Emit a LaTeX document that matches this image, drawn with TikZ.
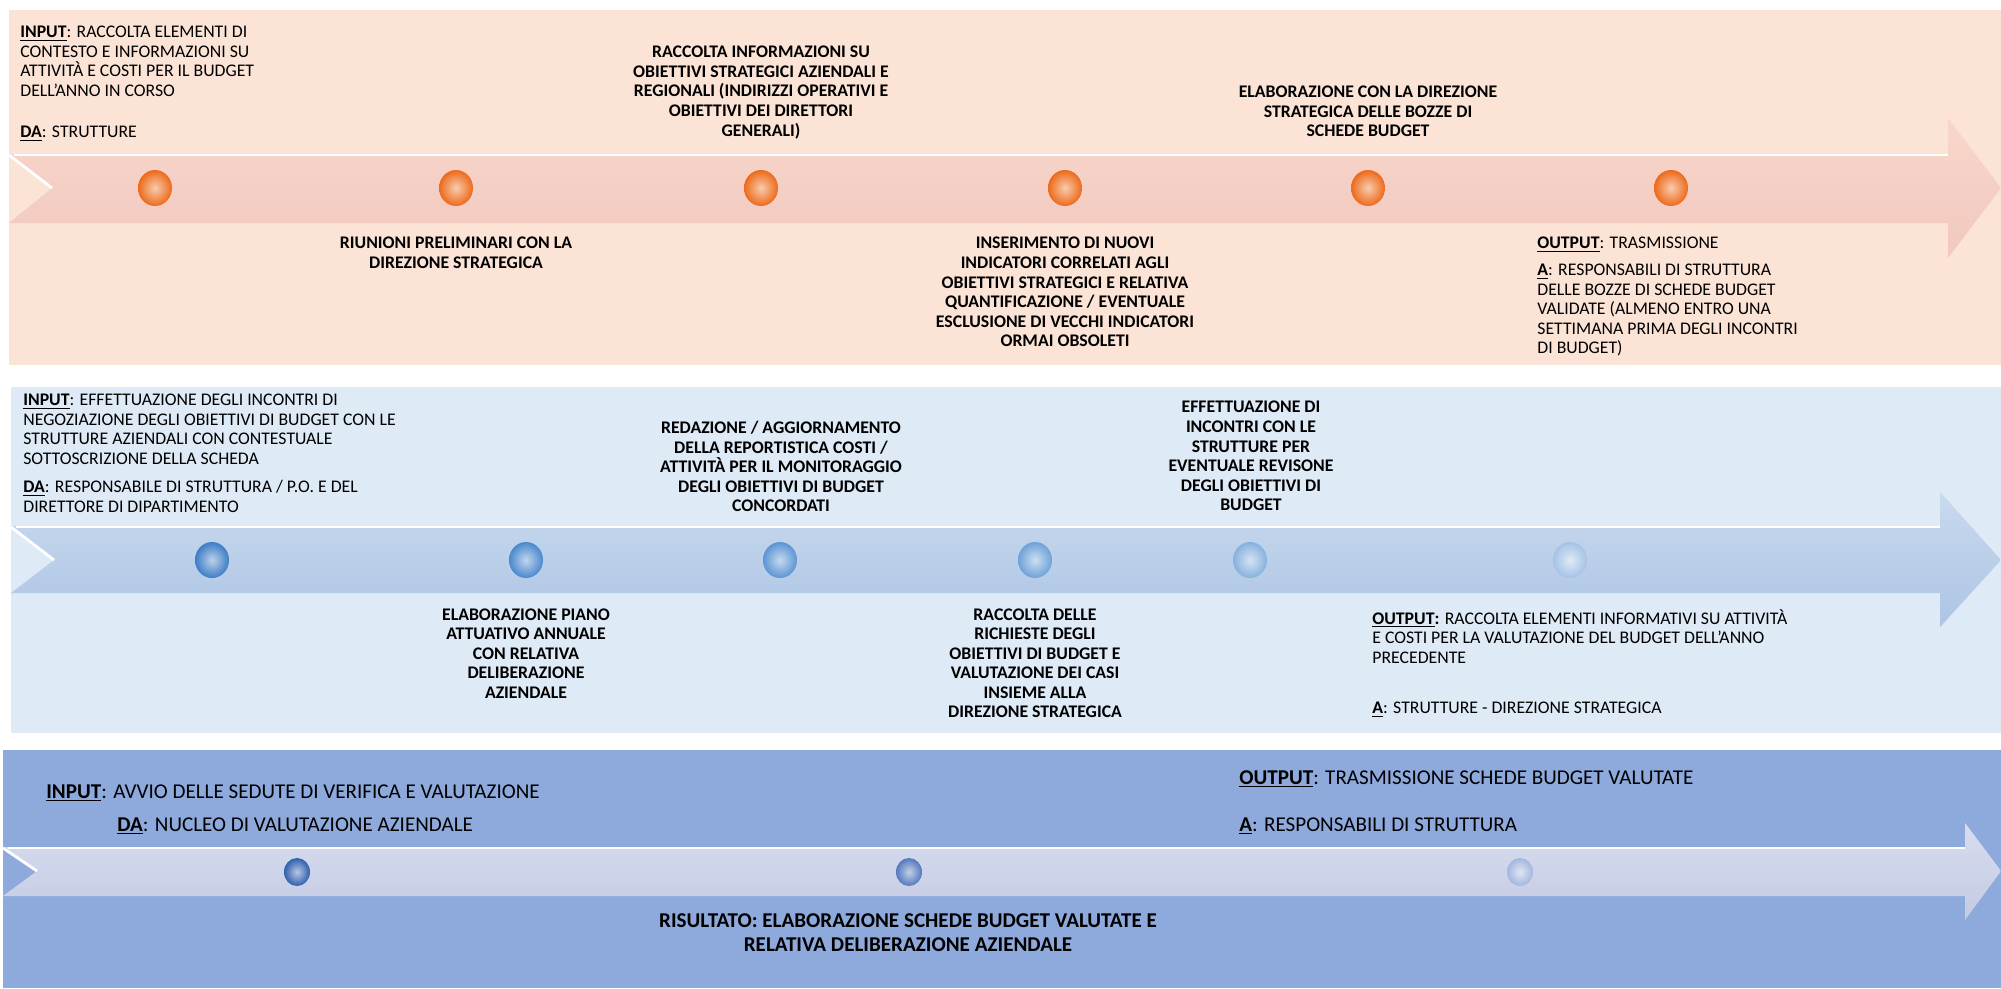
\documentclass[tikz,border=0pt]{standalone}
\usepackage{fontspec}
\setmainfont{Carlito}

\definecolor{peachbg}{HTML}{FBE4D6}
\definecolor{peachtop}{HTML}{F9D6CB}
\definecolor{peachbot}{HTML}{F0C8BE}
\definecolor{skybg}{HTML}{DEEAF6}
\definecolor{skytop}{HTML}{C9DAEF}
\definecolor{skybot}{HTML}{ADC4E3}
\definecolor{steelbg}{HTML}{8EAADC}
\definecolor{steeltop}{HTML}{D8DDEF}
\definecolor{steelbot}{HTML}{C3CAE3}
\definecolor{orangeball}{HTML}{EC6A1A}
\definecolor{blueA}{HTML}{3E7CC6}
\definecolor{blueB}{HTML}{4A88CE}
\definecolor{blueC}{HTML}{5B95D3}
\definecolor{blueD}{HTML}{6EA2D8}
\definecolor{blueE}{HTML}{86B1DE}
\definecolor{blueF}{HTML}{A5C3E6}
\definecolor{navyA}{HTML}{2F5FAE}
\definecolor{navyB}{HTML}{5479BE}
\definecolor{navyC}{HTML}{A4B6DE}

\newcommand{\tagword}[1]{\textbf{\underline{#1}}}

\tikzset{
	body/.style={font=\fontsize{10.1}{11.1}\selectfont, inner sep=0pt},
	note/.style={body, anchor=north west, align=left},
	stage/.style={body, font=\fontsize{10.1}{11.1}\selectfont\bfseries, anchor=north, align=center},
	wide/.style={font=\fontsize{12}{14}\selectfont, inner sep=0pt, anchor=base west},
	gloss/.style={white, line width=1.6pt},
	globe/.style={inner color=#1!35!white, outer color=#1},
}

\begin{document}
\begin{tikzpicture}[x=0.02cm, y=-0.02cm]
			\useasboundingbox (0,0) rectangle (2001,988);

			% Phase 1: draft budget sheets
			\fill[peachbg] (9,10) rectangle (2001,365);
			\shade[top color=peachtop, bottom color=peachbot] (9,154) -- (1948,154) -- (1948,118) -- (2001,188)
				-- (1948,258) -- (1948,223) -- (9,223) -- (52,188) -- cycle;
			\draw[gloss] (9,155) -- (52,188);
			\draw[gloss] (14,155) -- (1948,155);

			\shade[globe=orangeball] (155,188) ellipse [x radius=17, y radius=18];
			\shade[globe=orangeball] (456,188) ellipse [x radius=17, y radius=18];
			\shade[globe=orangeball] (761,188) ellipse [x radius=17, y radius=18];
			\shade[globe=orangeball] (1065,188) ellipse [x radius=17, y radius=18];
			\shade[globe=orangeball] (1368,188) ellipse [x radius=17, y radius=18];
			\shade[globe=orangeball] (1671,188) ellipse [x radius=17, y radius=18];

			\node[note] (input1) at (20,26) {\tagword{INPUT}: RACCOLTA ELEMENTI DI\\CONTESTO E INFORMAZIONI SU\\ATTIVITÀ E COSTI PER IL BUDGET\\DELL'ANNO IN CORSO};
			\node[note] (from1) at (20,126) {\tagword{DA}: STRUTTURE};
			\node[stage] (goals) at (761,46) {RACCOLTA INFORMAZIONI SU\\OBIETTIVI STRATEGICI AZIENDALI E\\REGIONALI (INDIRIZZI OPERATIVI E\\OBIETTIVI DEI DIRETTORI\\GENERALI)};
			\node[stage] (drafts) at (1368,86) {ELABORAZIONE CON LA DIREZIONE\\STRATEGICA DELLE BOZZE DI\\SCHEDE BUDGET};
			\node[stage] (meetings) at (456,237) {RIUNIONI PRELIMINARI CON LA\\DIREZIONE STRATEGICA};
			\node[stage] (indicators) at (1065,237) {INSERIMENTO DI NUOVI\\INDICATORI CORRELATI AGLI\\OBIETTIVI STRATEGICI E RELATIVA\\QUANTIFICAZIONE / EVENTUALE\\ESCLUSIONE DI VECCHI INDICATORI\\ORMAI OBSOLETI};
			\node[note] (output1) at (1537,237) {\tagword{OUTPUT}: TRASMISSIONE};
			\node[note] (to1) at (1537,264) {\tagword{A}: RESPONSABILI DI STRUTTURA\\DELLE BOZZE DI SCHEDE BUDGET\\VALIDATE (ALMENO ENTRO UNA\\SETTIMANA PRIMA DEGLI INCONTRI\\DI BUDGET)};

			% Phase 2: negotiation and monitoring
			\fill[skybg] (11,387) rectangle (2001,733);
			\shade[top color=skytop, bottom color=skybot] (11,526) -- (1940,526) -- (1940,492) -- (2001,560)
				-- (1940,627) -- (1940,593) -- (11,593) -- (54,560) -- cycle;
			\draw[gloss] (11,527) -- (54,560);
			\draw[gloss] (16,527) -- (1940,527);

			\shade[globe=blueA] (212,560) ellipse [x radius=17, y radius=18];
			\shade[globe=blueB] (526,560) ellipse [x radius=17, y radius=18];
			\shade[globe=blueC] (780,560) ellipse [x radius=17, y radius=18];
			\shade[globe=blueD] (1035,560) ellipse [x radius=17, y radius=18];
			\shade[globe=blueE] (1250,560) ellipse [x radius=17, y radius=18];
			\shade[globe=blueF] (1570,560) ellipse [x radius=17, y radius=18];

			\node[note] (input2) at (23,394) {\tagword{INPUT}: EFFETTUAZIONE DEGLI INCONTRI DI\\NEGOZIAZIONE DEGLI OBIETTIVI DI BUDGET CON LE\\STRUTTURE AZIENDALI CON CONTESTUALE\\SOTTOSCRIZIONE DELLA SCHEDA};
			\node[note] (from2) at (23,480) {\tagword{DA}: RESPONSABILE DI STRUTTURA / P.O. E DEL\\DIRETTORE DI DIPARTIMENTO};
			\node[stage] (reports) at (781,421) {REDAZIONE / AGGIORNAMENTO\\DELLA REPORTISTICA COSTI /\\ATTIVITÀ PER IL MONITORAGGIO\\DEGLI OBIETTIVI DI BUDGET\\CONCORDATI};
			\node[stage] (review) at (1251,401) {EFFETTUAZIONE DI\\INCONTRI CON LE\\STRUTTURE PER\\EVENTUALE REVISONE\\DEGLI OBIETTIVI DI\\BUDGET};
			\node[stage] (plan) at (526,608) {ELABORAZIONE PIANO\\ATTUATIVO ANNUALE\\CON RELATIVA\\DELIBERAZIONE\\AZIENDALE};
			\node[stage] (requests) at (1035,608) {RACCOLTA DELLE\\RICHIESTE DEGLI\\OBIETTIVI DI BUDGET E\\VALUTAZIONE DEI CASI\\INSIEME ALLA\\DIREZIONE STRATEGICA};
			\node[note] (output2) at (1372,609) {\textbf{\underline{OUTPUT}:} RACCOLTA ELEMENTI INFORMATIVI SU ATTIVITÀ\\E COSTI PER LA VALUTAZIONE DEL BUDGET DELL'ANNO\\PRECEDENTE};
			\node[note] (to2) at (1372,702) {\tagword{A}: STRUTTURE - DIREZIONE STRATEGICA};

			% Phase 3: evaluation
			\fill[steelbg] (3,750) rectangle (2001,988);
			\shade[top color=steeltop, bottom color=steelbot] (3,847) -- (1965,847) -- (1965,823) -- (2001,871)
				-- (1965,920) -- (1965,896) -- (3,896) -- (37,871) -- cycle;
			\draw[gloss] (3,848) -- (37,871);
			\draw[gloss] (8,848) -- (1965,848);

			\shade[globe=navyA] (297,872) ellipse [x radius=13, y radius=14];
			\shade[globe=navyB] (909,872) ellipse [x radius=13, y radius=14];
			\shade[globe=navyC] (1520,872) ellipse [x radius=13, y radius=14];

			\node[wide] (input3) at (46,798) {\tagword{INPUT}: AVVIO DELLE SEDUTE DI VERIFICA E VALUTAZIONE};
			\node[wide] (from3) at (117,831) {\tagword{DA}: NUCLEO DI VALUTAZIONE AZIENDALE};
			\node[wide] (output3) at (1239,784) {\tagword{OUTPUT}: TRASMISSIONE SCHEDE BUDGET VALUTATE};
			\node[wide] (to3) at (1239,831) {\tagword{A}: RESPONSABILI DI STRUTTURA};
			\node[font=\fontsize{12}{14}\selectfont\bfseries, inner sep=0pt, anchor=north, align=center] (result) at (908,913)
				{RISULTATO: ELABORAZIONE SCHEDE BUDGET VALUTATE E\\RELATIVA DELIBERAZIONE AZIENDALE};
		\end{tikzpicture}
\end{document}
